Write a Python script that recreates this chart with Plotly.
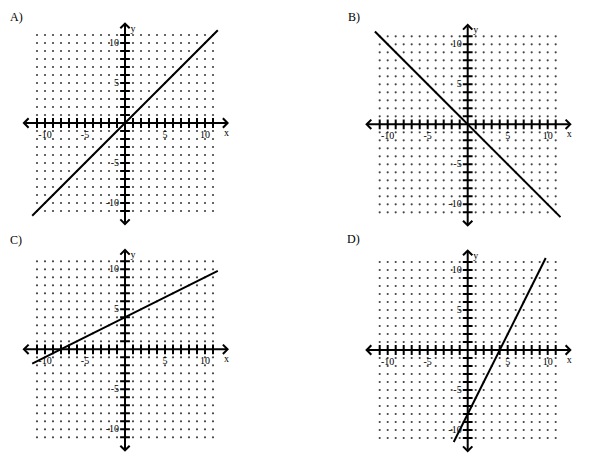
import numpy as np
import plotly.graph_objects as go

# Data ########################################################################
panel_names = ["A)", "B)", "C)", "D)"]
slopes = [1, -1, 0.5, 2]
intercepts = [0, 0, 4, -8]
x_starts = [-11.6, -11.6, -11.6, -1.75]
x_ends = [11.6, 11.6, 11.6, 9.75]

tick_vals = [-10, -5, 5, 10]
tick_text = ["-10", "-5", "5", "10"]
grid_vals = list(range(-11, 12))

# Layout helpers (pixels) #####################################################
W, H = 600, 465
off = 8  # page body margin
px_per_unit = 8.0
half_range = 14
origins = [(125, 123), (467.7, 124.3), (125, 349.3), (467.7, 350)]
letter_pos = [(3, 11), (346, 12), (3, 238), (345, 237)]
serif = "Liberation Serif"

fig = go.Figure()
annotations = []

for i in range(4):
    n = "" if i == 0 else str(i + 1)
    xa, ya = "x" + n, "y" + n
    ox, oy = origins[i][0] - off, origins[i][1] - off
    half_px = half_range * px_per_unit
    fig.layout["xaxis" + n] = dict(
        domain=[(ox - half_px) / W, (ox + half_px) / W],
        range=[-half_range, half_range], visible=False, fixedrange=True)
    fig.layout["yaxis" + n] = dict(
        domain=[1 - (oy + half_px) / H, 1 - (oy - half_px) / H],
        range=[-half_range, half_range], visible=False, fixedrange=True)

    # dotted grid
    gx, gy = np.meshgrid(grid_vals, grid_vals)
    mask = (gx != 0) & (gy != 0)
    fig.add_trace(go.Scatter(
        x=gx[mask], y=gy[mask], mode="markers", xaxis=xa, yaxis=ya,
        marker=dict(size=2.2, color="#444444"), hoverinfo="skip"))

    # axis tick marks
    ticks = [v for v in grid_vals if v != 0]
    fig.add_trace(go.Scatter(
        x=ticks, y=[0] * len(ticks), mode="markers", xaxis=xa, yaxis=ya,
        marker=dict(symbol="line-ns", size=7, line=dict(width=2, color="black")),
        hoverinfo="skip"))
    fig.add_trace(go.Scatter(
        x=[0] * len(ticks), y=ticks, mode="markers", xaxis=xa, yaxis=ya,
        marker=dict(symbol="line-ew", size=7, line=dict(width=2, color="black")),
        hoverinfo="skip"))

    # axes with arrows
    annotations.append(dict(
        x=13, y=0, ax=-13, ay=0, xref=xa, yref=ya, axref=xa, ayref=ya,
        text="", showarrow=True, arrowhead=4, arrowside="end+start",
        arrowsize=0.9, arrowwidth=2, arrowcolor="black"))
    annotations.append(dict(
        x=0, y=12.6, ax=0, ay=-13, xref=xa, yref=ya, axref=xa, ayref=ya,
        text="", showarrow=True, arrowhead=4, arrowside="end+start",
        arrowsize=0.9, arrowwidth=2, arrowcolor="black"))

    # tick labels
    fig.add_trace(go.Scatter(
        x=tick_vals, y=[-1.5] * len(tick_vals), mode="text", text=tick_text,
        xaxis=xa, yaxis=ya, textfont=dict(family=serif, size=10, color="black"),
        hoverinfo="skip"))
    fig.add_trace(go.Scatter(
        x=[-0.75] * len(tick_vals), y=tick_vals, mode="text", text=tick_text,
        textposition="middle left", xaxis=xa, yaxis=ya,
        textfont=dict(family=serif, size=10, color="black"), hoverinfo="skip"))
    fig.add_trace(go.Scatter(
        x=[12.7, 1.0], y=[-1.3, 11.7], mode="text", text=["x", "y"],
        xaxis=xa, yaxis=ya, textfont=dict(family=serif, size=10, color="black"),
        hoverinfo="skip"))

    # the line
    lx = [x_starts[i], x_ends[i]]
    ly = [slopes[i] * v + intercepts[i] for v in lx]
    fig.add_trace(go.Scatter(
        x=lx, y=ly, mode="lines", xaxis=xa, yaxis=ya,
        line=dict(color="black", width=2), hoverinfo="skip"))

    # panel letter
    lpx, lpy = letter_pos[i][0] - off, letter_pos[i][1] - off
    annotations.append(dict(
        x=max(lpx, 0) / W, y=min(1 - (lpy - 7) / H, 1), xref="paper", yref="paper",
        xanchor="left", yanchor="top", text=panel_names[i], showarrow=False,
        font=dict(family=serif, size=12, color="black")))

fig.update_layout(
    autosize=False,
    width=W,
    height=H,
    margin=dict(l=0, r=0, t=0, b=0),
    paper_bgcolor="white",
    plot_bgcolor="white",
    showlegend=False,
    annotations=annotations
)

fig.write_html("out.html")
